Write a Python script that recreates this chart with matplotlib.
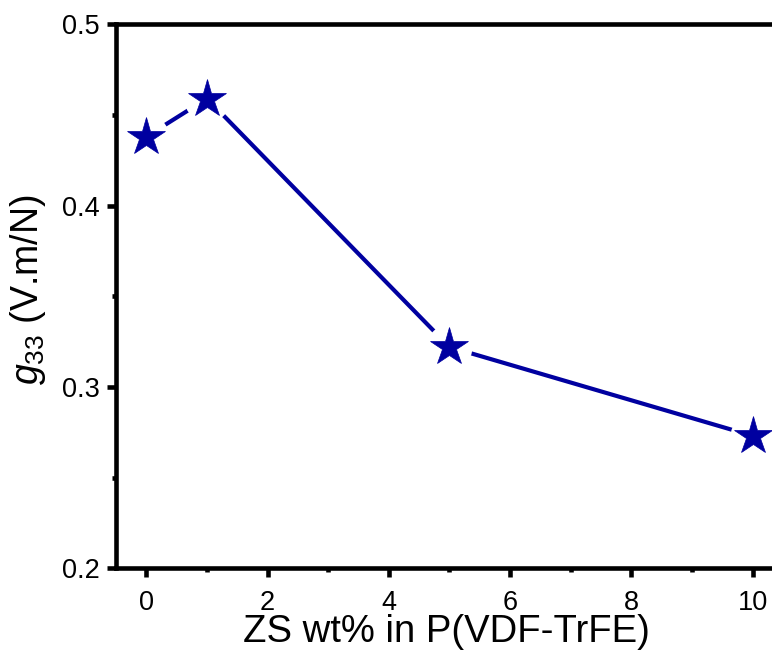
import matplotlib
matplotlib.use("Agg")
import matplotlib.pyplot as plt
from matplotlib.ticker import MultipleLocator

# g33 values
zs_wt = [0, 1, 5, 10]
g33 = [0.438, 0.459, 0.322, 0.273]

navy = "#0000A0"

plt.rcParams['font.family'] = ['Liberation Sans', 'DejaVu Sans']
plt.rcParams['mathtext.fontset'] = 'custom'
plt.rcParams['mathtext.it'] = 'Liberation Sans:italic'
plt.rcParams['mathtext.rm'] = 'Liberation Sans'

fig = plt.figure(figsize=(7.72, 6.52), dpi=100)
# axes box runs up to the right edge of the picture, as in the original crop
ax = fig.add_axes([0.1503, 0.1285, 0.8497, 0.8344])

# line, then white discs to leave gaps around the points, then stars
ax.plot(zs_wt, g33, color=navy, lw=3.0, zorder=1, solid_capstyle='butt')
ax.plot(zs_wt, g33, ls='none', marker='o', ms=33, mfc='white', mec='none', zorder=2)
ax.plot(zs_wt, g33, ls='none', marker='*', ms=28.5, mfc=navy, mec=navy, mew=0.5, zorder=3)

ax.set_xlim(-0.5, 10.32)
ax.set_ylim(0.2, 0.5)
ax.xaxis.set_major_locator(MultipleLocator(2))
ax.xaxis.set_minor_locator(MultipleLocator(1))
ax.yaxis.set_major_locator(MultipleLocator(0.1))
ax.yaxis.set_minor_locator(MultipleLocator(0.05))

ax.spines['right'].set_visible(False)
for sp in ax.spines.values():
    sp.set_linewidth(3.3)
ax.tick_params(which='major', direction='out', length=6.5, width=3.3, labelsize=19.5)
ax.tick_params(which='minor', direction='out', length=3, width=3.3)
ax.tick_params(axis='x', which='major', pad=9)
ax.tick_params(axis='y', which='major', pad=5)

ax.set_xlabel("ZS wt% in P(VDF-TrFE)", fontsize=27.5, labelpad=-1)
ax.set_ylabel(r"$g_{33}$ (V.m/N)", fontsize=27, labelpad=10)
ax.xaxis.label.set_x(0.504)
ax.yaxis.label.set_y(0.511)

fig.savefig("out.png", dpi=100)
